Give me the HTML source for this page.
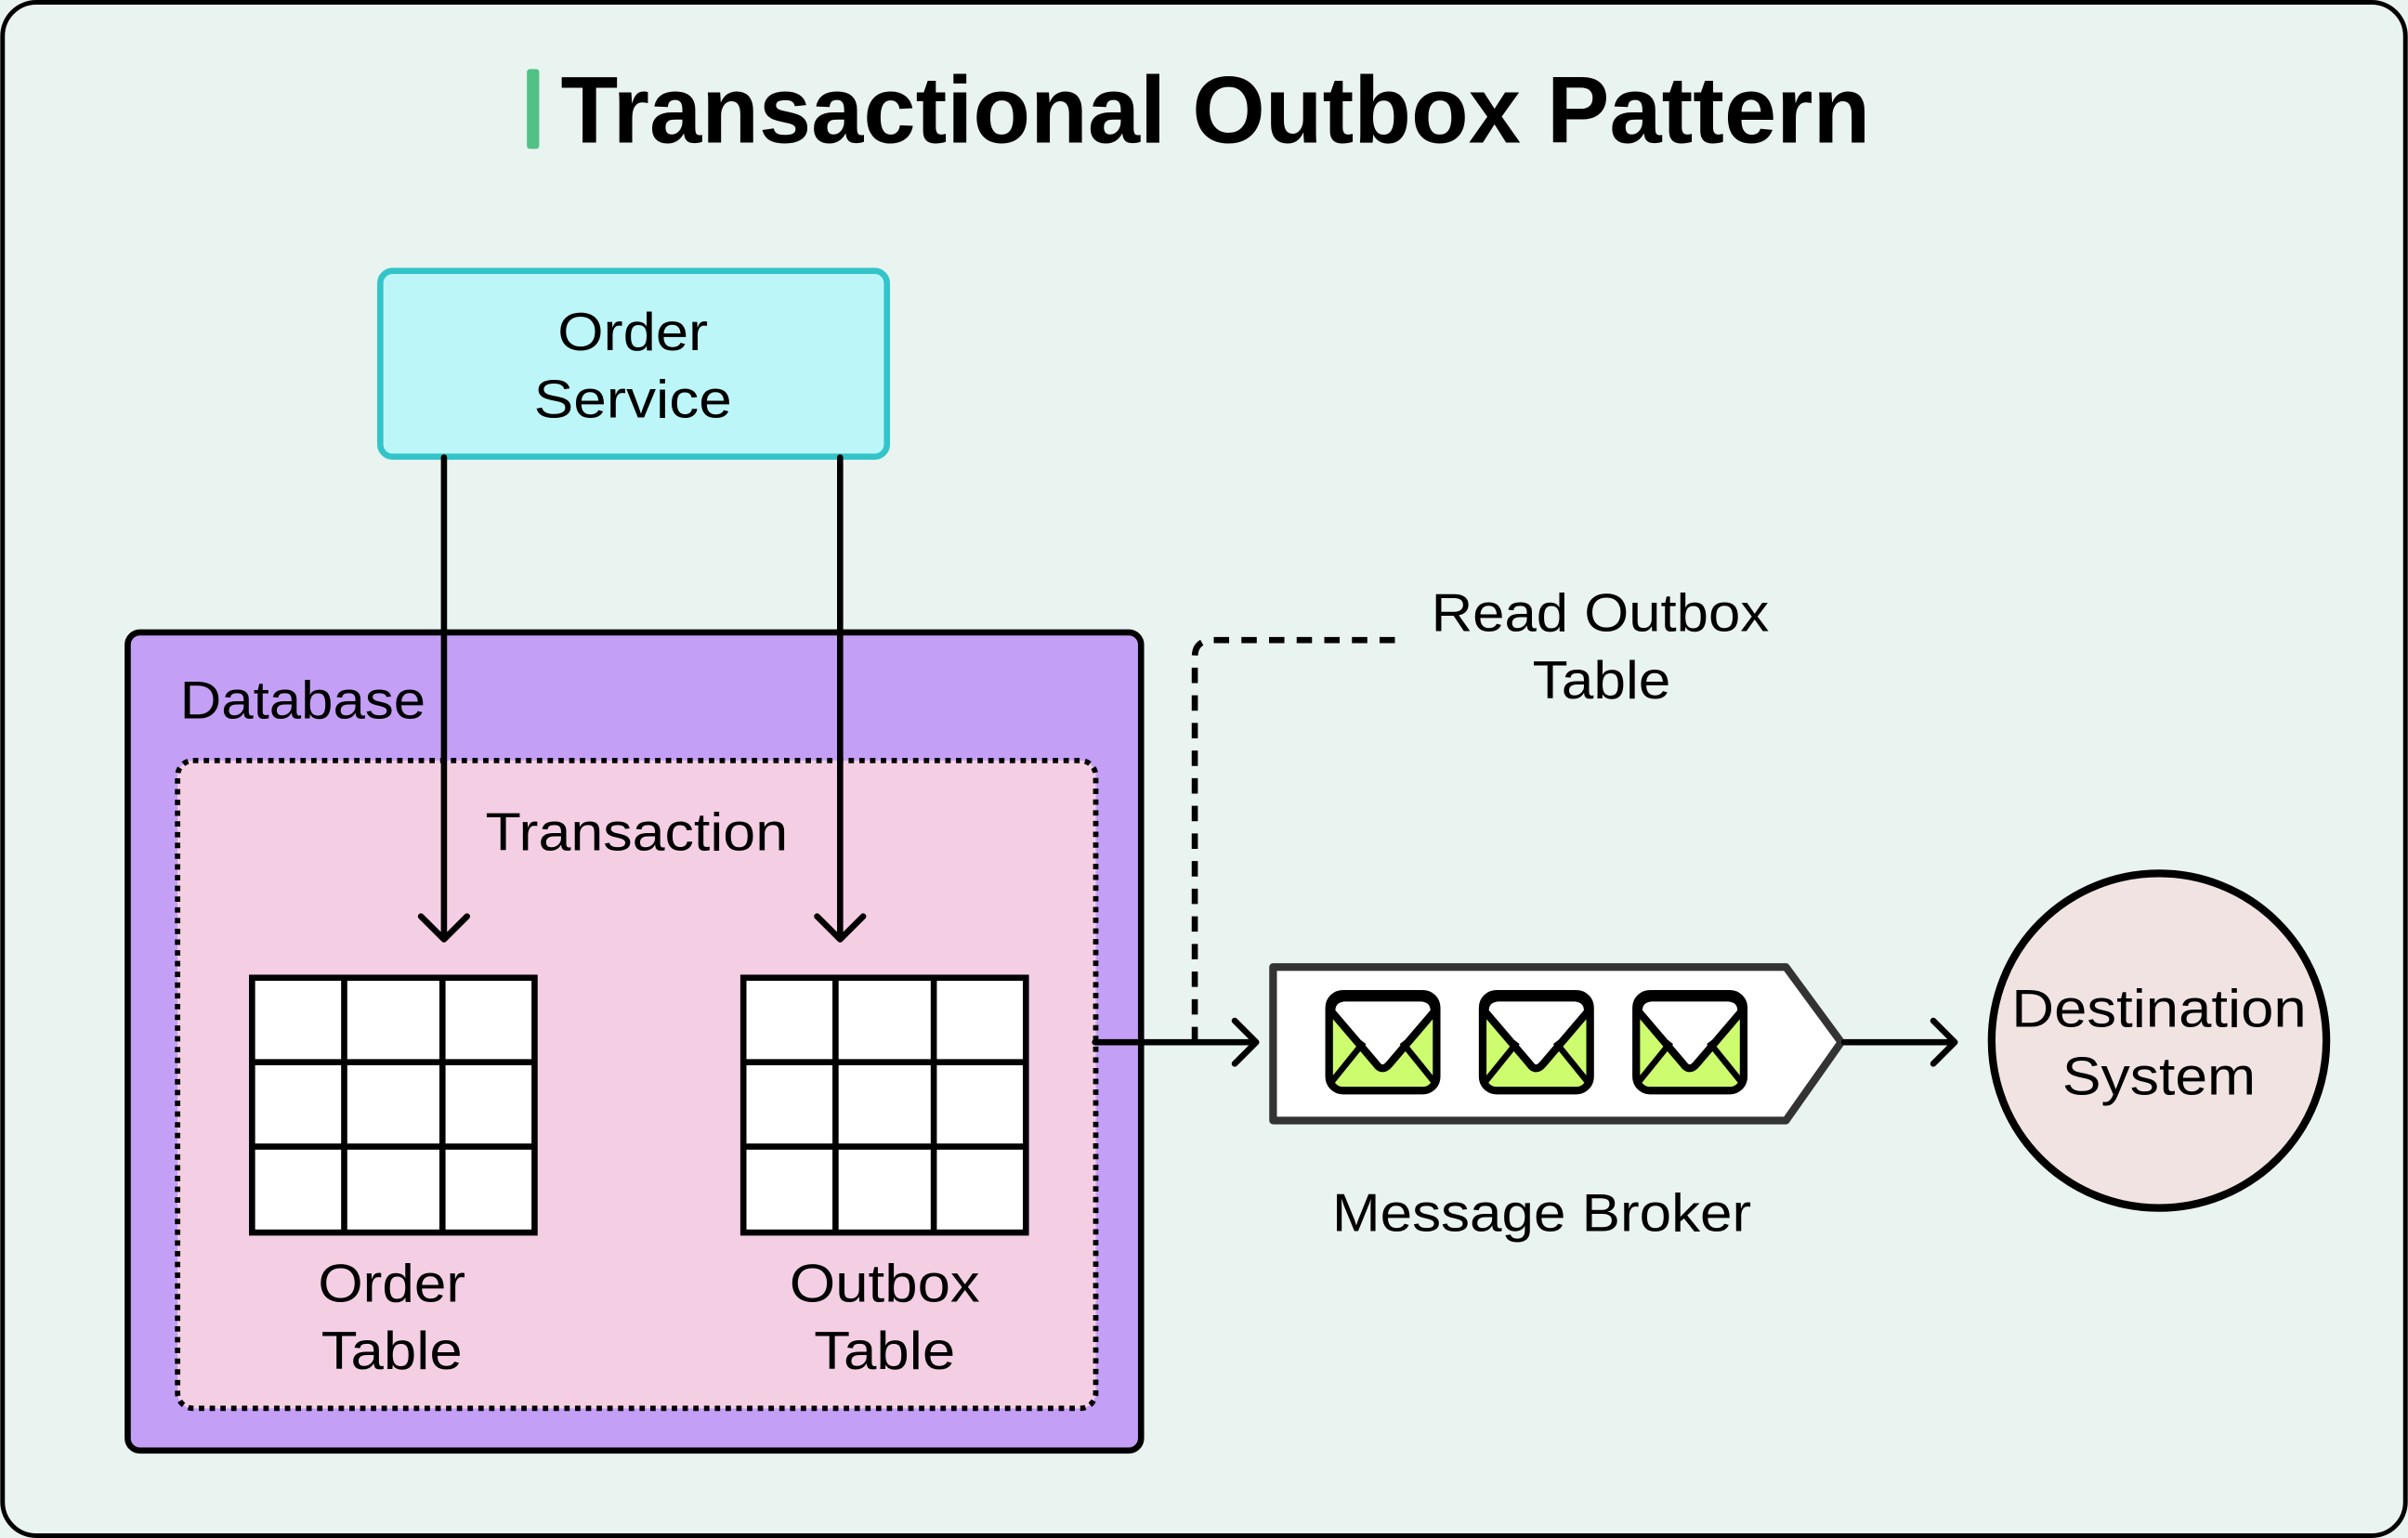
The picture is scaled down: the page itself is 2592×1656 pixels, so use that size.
<!DOCTYPE html>
<html><head><meta charset="utf-8"><style>
html,body{margin:0;padding:0;background:#e9f3ef;}
svg{display:block;}
text{font-family:"Liberation Sans",sans-serif;fill:#000;}
</style></head><body>
<svg width="2592" height="1656" viewBox="0 0 1568 1002" xmlns="http://www.w3.org/2000/svg">
<defs>
<g id="env">
  <rect x="2.5" y="2.5" width="70" height="63" rx="9" fill="#cdfd6e" stroke="#000" stroke-width="5"/>
  <path d="M4,14 Q4,6 12,5 H63 Q71,6 71,14 L42,48 Q37,54 33,48 Z" fill="#fff" stroke="#000" stroke-width="5" stroke-linejoin="round"/>
  <path d="M4,60 L25,34 M71,60 L50,34" stroke="#000" stroke-width="4" fill="none"/>
</g>
<g id="tbl">
  <rect x="0" y="0" width="184" height="166" fill="#fff" stroke="#000" stroke-width="4"/>
  <path d="M60,0V166 M124,0V166 M0,55H184 M0,110H184" stroke="#000" stroke-width="4"/>
</g>
</defs>
<rect x="1.5" y="1.5" width="1565" height="999" rx="22" fill="#e9f3ef" stroke="#000" stroke-width="3"/>
<rect x="343" y="45" width="8" height="52" rx="2" fill="#51c185"/>
<text x="365" y="93" font-size="62" font-weight="bold" textLength="853" lengthAdjust="spacingAndGlyphs">Transactional Outbox Pattern</text>

<rect x="247.5" y="176.5" width="330" height="121" rx="8" fill="#bdf6f8" stroke="#33c4c9" stroke-width="4"/>
<text x="412" y="228" font-size="35" text-anchor="middle" textLength="98" lengthAdjust="spacingAndGlyphs">Order</text>
<text x="412" y="272" font-size="35" text-anchor="middle" textLength="129" lengthAdjust="spacingAndGlyphs">Service</text>

<rect x="83" y="412" width="660" height="533" rx="8" fill="#c49ff6" stroke="#000" stroke-width="4"/>
<text x="117" y="468" font-size="35" textLength="160" lengthAdjust="spacingAndGlyphs">Database</text>
<rect x="115.5" y="495.5" width="598" height="422" rx="10" fill="#f4cfe4" stroke="#000" stroke-width="3.5" stroke-dasharray="3.5 3.5"/>
<text x="316" y="554" font-size="35" textLength="197" lengthAdjust="spacingAndGlyphs">Transaction</text>

<use href="#tbl" x="164" y="637"/>
<use href="#tbl" x="484" y="637"/>
<text x="255" y="848" font-size="35" text-anchor="middle" textLength="96" lengthAdjust="spacingAndGlyphs">Order</text>
<text x="255" y="892" font-size="35" text-anchor="middle" textLength="92" lengthAdjust="spacingAndGlyphs">Table</text>
<text x="576" y="848" font-size="35" text-anchor="middle" textLength="124" lengthAdjust="spacingAndGlyphs">Outbox</text>
<text x="576" y="892" font-size="35" text-anchor="middle" textLength="92" lengthAdjust="spacingAndGlyphs">Table</text>

<path d="M289,298V610 M274,597L289,612L304,597" stroke="#000" stroke-width="4" fill="none" stroke-linecap="round" stroke-linejoin="round"/>
<path d="M547,298V610 M532,597L547,612L562,597" stroke="#000" stroke-width="4" fill="none" stroke-linecap="round" stroke-linejoin="round"/>

<path d="M778,679V428Q778,417 790,417H912" stroke="#000" stroke-width="4" fill="none" stroke-dasharray="10 8"/>
<text x="1042" y="411" font-size="35" text-anchor="middle" textLength="220" lengthAdjust="spacingAndGlyphs">Read Outbox</text>
<text x="1043" y="455" font-size="35" text-anchor="middle" textLength="90" lengthAdjust="spacingAndGlyphs">Table</text>

<path d="M713,679H816 M804,665L818,679L804,693" stroke="#000" stroke-width="4" fill="none" stroke-linecap="round" stroke-linejoin="round"/>

<path d="M829,630H1163L1199,679L1163,730H829Z" fill="#fff" stroke="#333" stroke-width="5" stroke-linejoin="round"/>
<use href="#env" x="863" y="645"/>
<use href="#env" x="963" y="645"/>
<use href="#env" x="1063" y="645"/>
<text x="1004" y="802" font-size="35" text-anchor="middle" textLength="273" lengthAdjust="spacingAndGlyphs">Message Broker</text>

<path d="M1201,679H1272 M1259,665L1273,679L1259,693" stroke="#000" stroke-width="4" fill="none" stroke-linecap="round" stroke-linejoin="round"/>
<circle cx="1406" cy="678" r="109" fill="#f2e3e3" stroke="#000" stroke-width="5"/>
<text x="1406" y="669" font-size="35" text-anchor="middle" textLength="192" lengthAdjust="spacingAndGlyphs">Destination</text>
<text x="1406" y="713" font-size="35" text-anchor="middle" textLength="126" lengthAdjust="spacingAndGlyphs">System</text>
</svg>
</body></html>
